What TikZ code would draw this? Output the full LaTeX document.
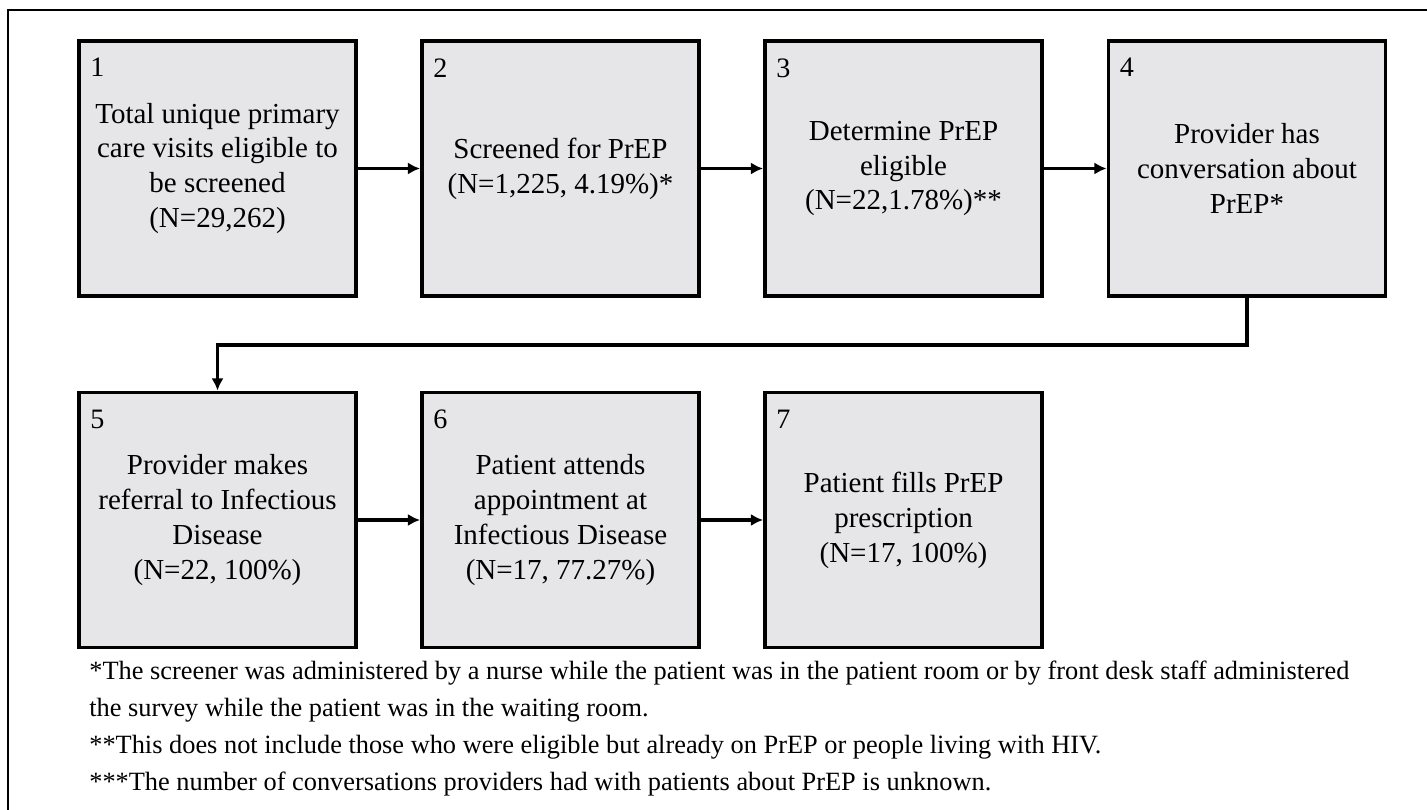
\documentclass[tikz,border=0pt]{standalone}
\usepackage{fontspec}
\setmainfont{Liberation Serif}
\usetikzlibrary{arrows.meta}
\definecolor{boxgray}{RGB}{230,229,231}

\begin{document}
\begin{tikzpicture}[
    stepbox/.style={rectangle, draw=black, line width=2.2pt, fill=boxgray, align=center, minimum width=5.54cm, minimum height=5.1cm, inner sep=0pt, font=\fontsize{16.5}{19.9}\selectfont},
    numtag/.style={anchor=north west, inner sep=0pt, font=\fontsize{16}{19}\selectfont},
    notes/.style={anchor=north west, align=left, inner sep=0pt, font=\fontsize{15}{21}\selectfont},
    arrow/.style={line width=2pt, -{Latex[length=7pt, width=7pt]}}
]
    \useasboundingbox (0,0) rectangle (28.54,-16.2);
    % outer frame (runs off the page on the right and bottom)
    \draw[line width=1.7pt] (0.16,-16.5) -- (0.16,-0.2) -- (28.8,-0.2);

    % Top row: screening to conversation
    \node[stepbox] (total) at (4.35,-3.37) {Total unique primary\\care visits eligible to\\be screened\\(N=29,262)};
    \node[stepbox] (screened) at (11.21,-3.37) {Screened for PrEP\\(N=1,225, 4.19\%)*};
    \node[stepbox] (eligible) at (18.07,-3.37) {Determine PrEP\\eligible\\(N=22,1.78\%)**};
    \node[stepbox] (conversation) at (24.94,-3.37) {Provider has\\conversation about\\PrEP*};
    \draw[arrow] (total) -- (screened);
    \draw[arrow] (screened) -- (eligible);
    \draw[arrow] (eligible) -- (conversation);

    % Bottom row: referral to prescription
    \node[stepbox] (referral) at (4.35,-10.4) {Provider makes\\referral to Infectious\\Disease\\(N=22, 100\%)};
    \node[stepbox] (attends) at (11.21,-10.4) {Patient attends\\appointment at\\Infectious Disease\\(N=17, 77.27\%)};
    \node[stepbox] (fills) at (18.07,-10.4) {Patient fills PrEP\\prescription\\(N=17, 100\%)};
    \draw[arrow] (conversation.south) -- ++(0,-0.94) -| (referral.north);
    \draw[arrow] (referral) -- (attends);
    \draw[arrow] (attends) -- (fills);

    % step numbers in the corners
    \foreach \nm/\num in {total/1, screened/2, eligible/3, conversation/4, referral/5, attends/6, fills/7}
    {
        \node[numtag] (tag\num) at ([shift={(0.26,-0.38)}]\nm.north west) {\num};
    }

    % footnotes
    \node[notes] (footnotes) at (1.78,-13.22) {*The screener was administered by a nurse while the patient was in the patient room or by front desk staff administered\\the survey while the patient was in the waiting room.\\**This does not include those who were eligible but already on PrEP or people living with HIV.\\***The number of conversations providers had with patients about PrEP is unknown.};
\end{tikzpicture}
\end{document}
